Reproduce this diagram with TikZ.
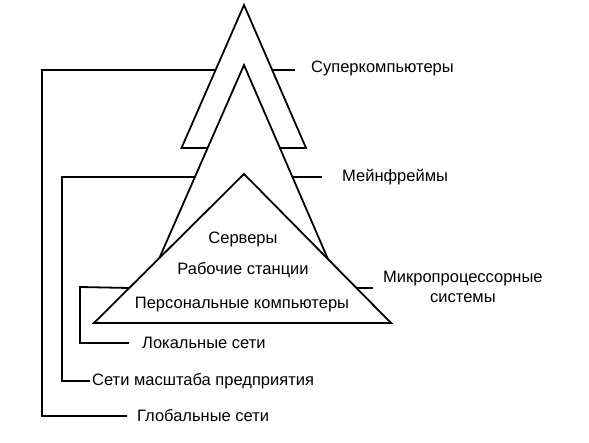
\documentclass[tikz,border=0pt]{standalone}
\usepackage{fontspec}
\setmainfont{Liberation Sans}
\usepackage{tikz}
\usetikzlibrary{calc}

\begin{document}
\begin{tikzpicture}[
  x=1pt, y=-1pt,
  font=\fontsize{16.5}{20}\selectfont,
  edge/.style={draw, line width=1.8pt, line join=miter},
  hook/.style={draw, line width=1.8pt},
  lbl/.style={anchor=west, inner sep=2pt},
  inlbl/.style={anchor=center, inner sep=1pt}
]
\useasboundingbox (0,0) rectangle (589,443);

% PYRAMID CORNERS
\coordinate (supTop) at (244,5);
\coordinate (supL) at (181.5,148);
\coordinate (supR) at (306,148);
\coordinate (mfTop) at (244,65);
\coordinate (mfL) at (159.4,258);
\coordinate (mfR) at (327.9,259);
\coordinate (miTop) at (244,174);
\coordinate (miL) at (94,323);
\coordinate (miR) at (391,323);

% SUPERCOMPUTERS
\path[edge] ($(mfTop)!0.43!(mfL)$) -- (supL) -- (supTop) -- (supR) -- ($(mfTop)!0.428!(mfR)$);
% MAINFRAMES
\path[edge] (mfL) -- (mfTop) -- (mfR);
% MICROPROCESSOR SYSTEMS
\path[edge] (miL) -- (miTop) -- (miR) -- cycle;

% LABELS
\node[lbl] (sup) at (309,68) {Суперкомпьютеры};
\node[lbl] (mf) at (340,177) {Мейнфреймы};
\node[lbl, align=center] (micro) at (381,287) {Микропроцессорные\\системы};
\node[inlbl] (serv) at (243,239) {Серверы};
\node[inlbl] (ws) at (243,270) {Рабочие станции};
\node[inlbl] (pc) at (242,305) {Персональные компьютеры};
\node[lbl] (lan) at (140,343) {Локальные сети};
\node[lbl] (ent) at (90,381) {Сети масштаба предприятия};
\node[lbl] (wan) at (135,416) {Глобальные сети};

% HOOKS ON THE SIDES
\coordinate (supHookL) at ($(supTop)!0.4545!(supL)$);
\coordinate (supHookR) at ($(supTop)!0.4545!(supR)$);
\coordinate (mfHookL) at ($(mfTop)!0.5803!(mfL)$);
\coordinate (mfHookR) at ($(mfTop)!0.5773!(mfR)$);
\coordinate (miHookL) at ($(miTop)!0.7651!(miL)$);
\coordinate (miHookR) at ($(miTop)!0.7651!(miR)$);
\coordinate (wanCorner) at (42,70);
\coordinate (entCorner) at (62,177);
\coordinate (lanCorner) at (80,287);

\draw[hook] (supHookR) -- ($(supHookR -| sup.west) + (-14,0)$);
\draw[hook] (mfHookR) -- ($(mfHookR -| mf.west) + (-18,0)$);
\draw[hook] (miHookR) -- ($(miHookR -| micro.west) + (-8,0)$);

\draw[hook] (supHookL) -- (wanCorner) |- ($(wan.west) + (-8,0)$);
\draw[hook] (mfHookL) -- (entCorner) |- (ent.west);
\draw[hook] (miHookL) -- (lanCorner) |- ($(lan.west) + (-11,0)$);

\end{tikzpicture}
\end{document}
